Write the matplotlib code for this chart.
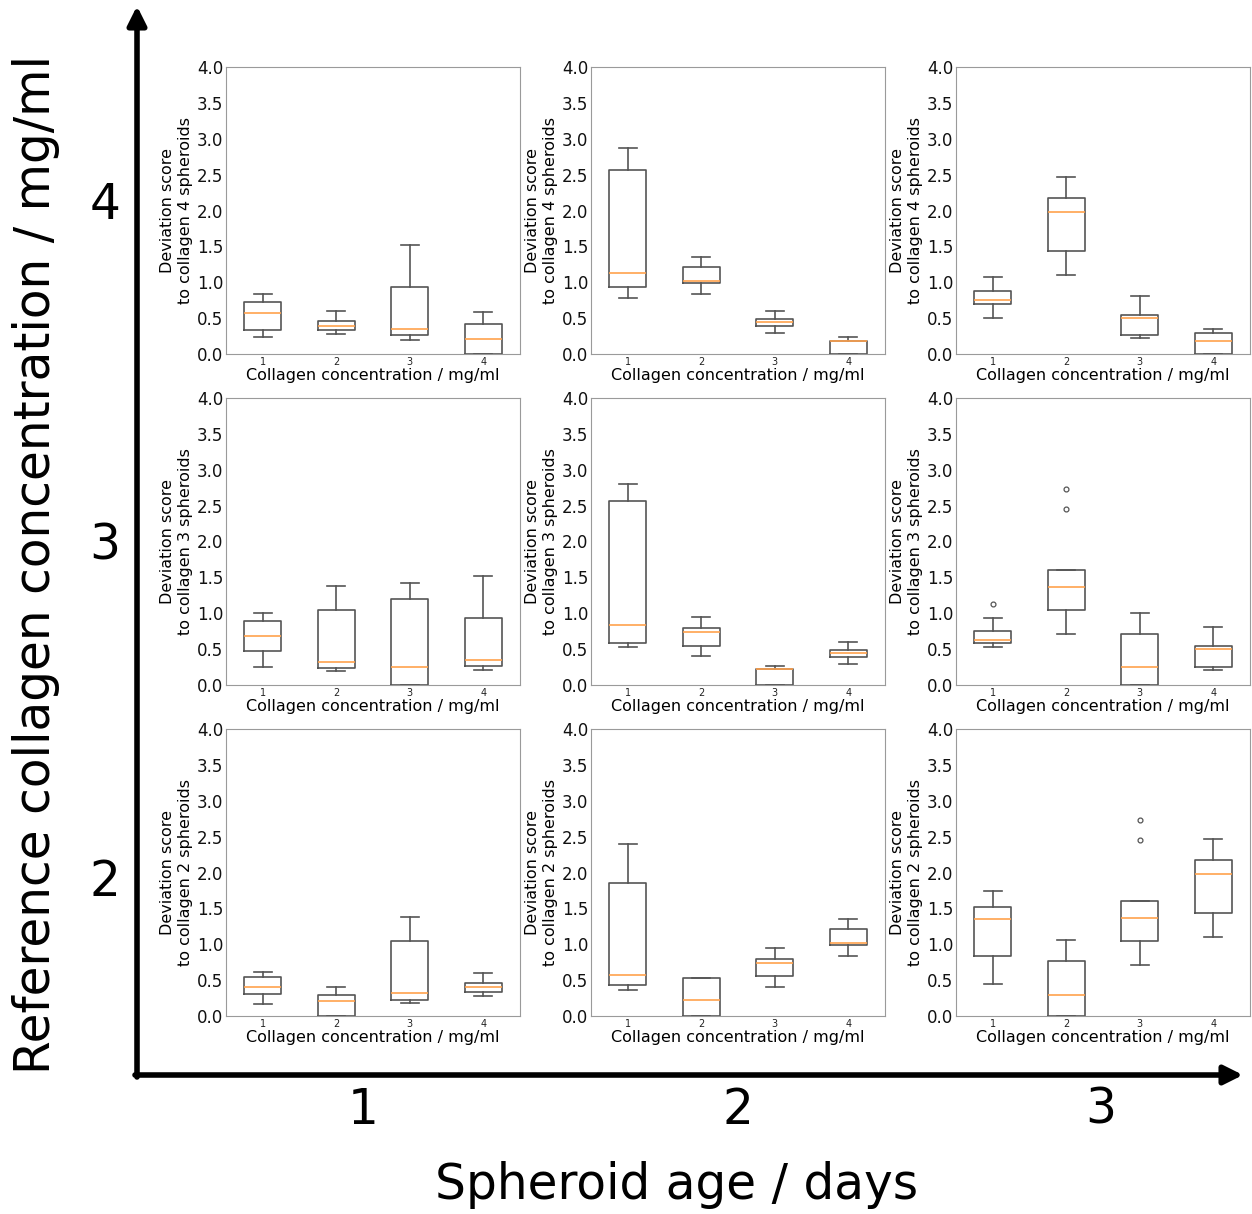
import matplotlib
matplotlib.use("Agg")
import matplotlib.pyplot as plt
from matplotlib.patches import FancyArrowPatch

# Grid layout: rows = reference collagen concentration, columns = spheroid age
ref_conc = [4, 3, 2]
ages = [1, 2, 3]
conc = [1, 2, 3, 4]

# Box statistics per panel [row][col] -> one value per collagen concentration
whis_lo = [
    [[0.23, 0.28, 0.20, 0.0], [0.777, 0.837, 0.293, 0.0], [0.498, 1.102, 0.219, 0.0]],
    [[0.255, 0.19, 0.0, 0.204], [0.53, 0.40, 0.0, 0.288], [0.526, 0.716, 0.0, 0.214]],
    [[0.163, 0.0, 0.181, 0.274], [0.367, 0.0, 0.405, 0.837], [0.447, 0.0, 0.716, 1.102]],
]
q1 = [
    [[0.335, 0.335, 0.26, 0.0], [0.93, 0.986, 0.39, 0.0], [0.693, 1.437, 0.26, 0.0]],
    [[0.477, 0.23, 0.0, 0.269], [0.581, 0.544, 0.0, 0.386], [0.586, 1.042, 0.0, 0.251]],
    [[0.302, 0.0, 0.228, 0.335], [0.428, 0.0, 0.553, 0.986], [0.842, 0.0, 1.042, 1.433]],
]
median = [
    [[0.57, 0.395, 0.344, 0.205], [1.126, 1.023, 0.447, 0.186], [0.758, 1.977, 0.507, 0.186]],
    [[0.685, 0.32, 0.245, 0.352], [0.837, 0.74, 0.22, 0.442], [0.623, 1.367, 0.251, 0.502]],
    [[0.409, 0.214, 0.316, 0.40], [0.567, 0.228, 0.735, 1.023], [1.349, 0.288, 1.363, 1.977]],
]
q3 = [
    [[0.73, 0.456, 0.94, 0.414], [2.558, 1.219, 0.493, 0.186], [0.884, 2.181, 0.549, 0.298]],
    [[0.894, 1.046, 1.194, 0.935], [2.567, 0.795, 0.223, 0.488], [0.758, 1.605, 0.707, 0.544]],
    [[0.549, 0.298, 1.047, 0.456], [1.847, 0.526, 0.79, 1.219], [1.516, 0.772, 1.605, 2.181]],
]
whis_hi = [
    [[0.83, 0.595, 1.516, 0.58], [2.865, 1.358, 0.605, 0.242], [1.079, 2.465, 0.809, 0.353]],
    [[1.005, 1.375, 1.42, 1.514], [2.80, 0.944, 0.26, 0.595], [0.94, 1.605, 1.01, 0.809]],
    [[0.614, 0.40, 1.377, 0.595], [2.40, 0.526, 0.944, 1.358], [1.749, 1.065, 1.605, 2.46]],
]
outliers = [
    [[[], [], [], []], [[], [], [], []], [[], [], [], []]],
    [[[], [], [], []], [[], [], [], []], [[1.135], [2.451, 2.726], [], []]],
    [[[], [], [], []], [[], [], [], []], [[], [], [2.456, 2.726], []]],
]

y_ticks = [0.0, 0.5, 1.0, 1.5, 2.0, 2.5, 3.0, 3.5, 4.0]

W, H = 1252, 1214
fig = plt.figure(figsize=(W / 100, H / 100), dpi=100)

col_left = [226, 591, 956]
row_top = [67, 398, 729]
ax_w, ax_h = 294, 287

box_col = "#555555"
spine_col = "#9a9a9a"

for r, rc in enumerate(ref_conc):
    for c, age in enumerate(ages):
        x0 = col_left[c] / W
        y0 = 1 - (row_top[r] + ax_h) / H
        ax = fig.add_axes([x0, y0, ax_w / W, ax_h / H])
        stats = []
        for k in range(len(conc)):
            stats.append(dict(
                whislo=whis_lo[r][c][k], q1=q1[r][c][k], med=median[r][c][k],
                q3=q3[r][c][k], whishi=whis_hi[r][c][k],
                fliers=outliers[r][c][k], label=str(conc[k]),
            ))
        ax.bxp(stats, positions=conc, widths=0.5, showfliers=True,
               boxprops=dict(color=box_col, linewidth=1.2),
               whiskerprops=dict(color=box_col, linewidth=1.2),
               capprops=dict(color=box_col, linewidth=1.2),
               medianprops=dict(color="#ffa24d", linewidth=1.2),
               flierprops=dict(marker="o", markersize=3.5, markerfacecolor="none",
                               markeredgecolor=box_col, markeredgewidth=0.9))
        ax.set_xlim(0.5, 4.5)
        ax.set_ylim(0, 4)
        ax.set_yticks(y_ticks)
        ax.set_yticklabels([f"{v:.1f}" for v in y_ticks], fontsize=12)
        ax.tick_params(axis="x", labelsize=7, length=0, pad=2, labelcolor="#222222")
        ax.tick_params(axis="y", length=0, pad=2, labelcolor="#111111")
        for s in ax.spines.values():
            s.set_color(spine_col)
        ax.set_xlabel("Collagen concentration / mg/ml", fontsize=11.5, labelpad=1)
        ax.set_ylabel(f"Deviation score\nto collagen {rc} spheroids", fontsize=11.5,
                      labelpad=3)

# Overall axes drawn as arrows
arrow_kw = dict(arrowstyle="-|>", mutation_scale=28, linewidth=4, color="black",
                transform=fig.transFigure, shrinkA=0, shrinkB=0)
fig.add_artist(FancyArrowPatch((137 / W, 1 - 1077 / H), (137 / W, 1 - 6 / H), **arrow_kw))
fig.add_artist(FancyArrowPatch((135 / W, 1 - 1075 / H), (1243 / W, 1 - 1075 / H), **arrow_kw))

row_label_y = [205, 545, 882]
col_label_x = [363, 738, 1101]
for r, rc in enumerate(ref_conc):
    fig.text(105 / W, 1 - row_label_y[r] / H, str(rc), fontsize=35,
             ha="center", va="center")
for c, age in enumerate(ages):
    fig.text(col_label_x[c] / W, 1 - 1110 / H, str(age), fontsize=35,
             ha="center", va="center")

fig.text(677 / W, 1 - 1185 / H, "Spheroid age / days", fontsize=35,
         ha="center", va="center")
fig.text(36 / W, 1 - 565 / H, "Reference collagen concentration / mg/ml", fontsize=35,
         ha="center", va="center", rotation=90)

fig.savefig("out.png", dpi=100, facecolor="white")
